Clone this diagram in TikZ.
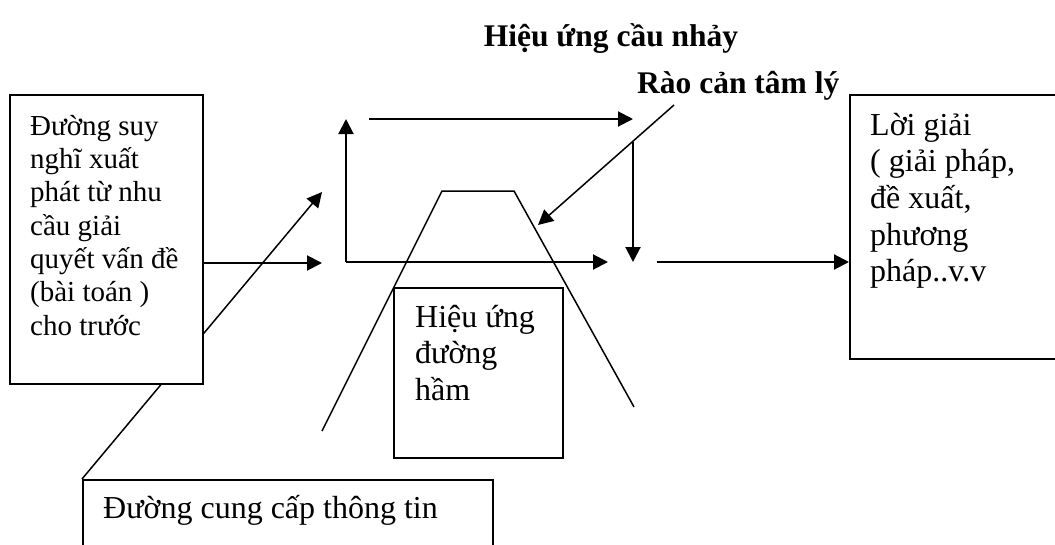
\documentclass[tikz,border=0pt]{standalone}
\usepackage{fontspec}
\setmainfont{Liberation Serif}
\usetikzlibrary{arrows.meta}
\newcommand\mystrut{\rule{0pt}{30pt}}
\begin{document}
\begin{tikzpicture}[x=1pt,y=-1pt,
  box/.style={draw, line width=2pt, fill=white, rectangle, anchor=north west, inner sep=0pt},
  arr/.style={line width=2pt, -{Triangle[length=15pt,width=15pt]}},
  thinline/.style={line width=1.5pt, line join=miter},
  txt/.style={anchor=north west, inner sep=0pt, align=left},
  bigtxt/.style={font=\fontsize{32pt}{36.6pt}\selectfont},
  smalltxt/.style={font=\fontsize{29pt}{33.3pt}\selectfont},
  boldtxt/.style={font=\fontsize{31.5pt}{36pt}\selectfont\bfseries}]
\useasboundingbox (0,0) rectangle (1055,544);
\clip (0,0) rectangle (1055,544);
\fill[white] (0,0) rectangle (1055,544);

% titles
\node[boldtxt, anchor=base, inner sep=0pt] (title) at (611,46) {Hiệu ứng cầu nhảy};
\node[boldtxt, anchor=base west, inner sep=0pt] (rc) at (637,93) {Rào cản tâm lý};

% coordinates
\coordinate (a1) at (322,263);
\coordinate (c0) at (346,262);
\coordinate (c1) at (346,119);
\coordinate (c2) at (608,262);
\coordinate (t0) at (369,119);
\coordinate (t1) at (633,119);
\coordinate (d0) at (633,142);
\coordinate (d1) at (633,262);
\coordinate (e0) at (657,262);
\coordinate (r0) at (674,105);
\coordinate (r1) at (538,225);
\coordinate (g1) at (322,192);
\coordinate (p1) at (322,431);
\coordinate (p2) at (442,191);
\coordinate (p3) at (514,191);
\coordinate (p4) at (634,407);

% bottom box and supply line
\node[box, minimum width=410pt, minimum height=80pt] (B) at (82,479) {};
\node[txt, bigtxt] (Btxt) at (103,488) {\mystrut Đường cung cấp thông tin};
\draw[arr, line width=1.5pt] (B.north west) -- (g1);

% left box
\node[box, minimum width=193pt, minimum height=289pt] (L) at (9,94) {};
\node[txt, smalltxt] (Ltxt) at (30,105) {\mystrut Đường suy\\nghĩ xuất\\phát từ nhu\\cầu giải\\quyết vấn đề\\(bài toán )\\cho trước};

% tunnel box
\node[box, minimum width=169pt, minimum height=170pt] (T) at (393,287) {};
\node[txt, bigtxt] (Ttxt) at (415,297) {\mystrut Hiệu ứng\\đường\\hầm};

% right box
\node[box, minimum width=230pt, minimum height=264pt] (R) at (849,94) {};
\node[txt, bigtxt] (Rtxt) at (870,105) {\mystrut Lời giải\\( giải pháp,\\đề xuất,\\phương\\pháp..v.v};

% bridge (trapezoid)
\draw[thinline] (p1) -- (p2) -- (p3) -- (p4);

% arrows
\draw[arr] (L.east |- a1) -- (a1);
\draw[arr] (c0) -- (c1);
\draw[arr] (c0) -- (c2);
\draw[arr] (t0) -- (t1);
\draw[arr] (d0) -- (d1);
\draw[arr] (e0) -- (R.west |- e0);
\draw[arr, line width=1.5pt] (r0) -- (r1);
\end{tikzpicture}
\end{document}
